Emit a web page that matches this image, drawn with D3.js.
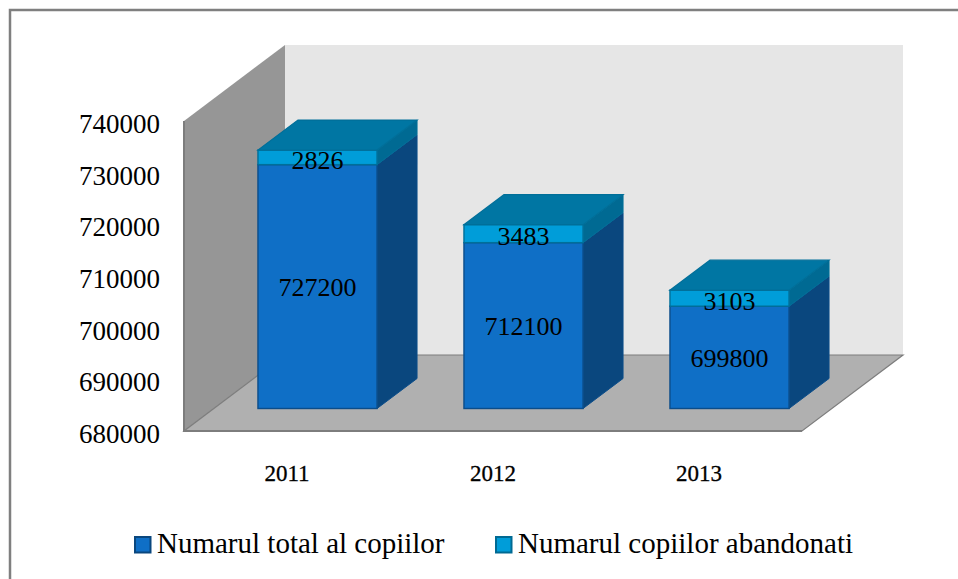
<!DOCTYPE html>
<html>
<head>
<meta charset="utf-8">
<script src="https://cdn.jsdelivr.net/npm/d3@7/dist/d3.min.js"></script>
<style>
  html, body { margin: 0; padding: 0; background: #fff; overflow: hidden; }
  svg { display: block; }
  text { font-family: "Liberation Serif", serif; fill: #000; font-feature-settings: "onum"; }
  .axis path, .axis line { display: none; }
</style>
</head>
<body>
<svg id="chart" width="958" height="579"></svg>
<script>
const years = ["2011", "2012", "2013"];
const totalChildren = [727200, 712100, 699800];
const abandonedChildren = [2826, 3483, 3103];
const yTicks = [680000, 690000, 700000, 710000, 720000, 730000, 740000];
const seriesNames = ["Numarul total al copiilor", "Numarul copiilor abandonati"];

const svg = d3.select("#chart");

const plot = { left: 184, right: 802, top: 121, bottom: 431, depthX: 101, depthY: -76 };
const bar = { shiftX: 30.5, lift: 22.5, depthX: 40, depthY: -30, ratio: 0.578 };

const colors = {
  frame: "#7f7f7f",
  backWall: "#e6e6e6",
  sideWall: "#969696",
  floor: "#b0b0b0",
  wallEdge: "#7d7d7d",
  front: ["#0f6fc6", "#009dd9"],
  side: ["#0a477e", "#006a93"],
  topFace: "#0076a3",
  edge: ["#0b4d8a", "#006f99"]
};

const x = d3.scaleBand().domain(years).range([plot.left, plot.right]);
const y = d3.scaleLinear().domain([680000, 740000]).range([plot.bottom, plot.top]);

const line = d3.line();

// outer frame, runs off the right and bottom of the picture
svg.append("rect")
  .attr("x", 10).attr("y", 10)
  .attr("width", 1200).attr("height", 1200)
  .attr("fill", "#fff")
  .attr("stroke", colors.frame)
  .attr("stroke-width", 2.5);

const yBase = y(680000), yMax = y(740000);
const dx = plot.depthX, dy = plot.depthY;

// back wall
svg.append("path")
  .attr("d", line([[plot.left + dx, yMax + dy], [plot.right + dx, yMax + dy],
                   [plot.right + dx, yBase + dy], [plot.left + dx, yBase + dy]]) + "Z")
  .attr("fill", colors.backWall);

// side wall
svg.append("path")
  .attr("d", line([[plot.left, yMax], [plot.left + dx, yMax + dy],
                   [plot.left + dx, yBase + dy], [plot.left, yBase]]) + "Z")
  .attr("fill", colors.sideWall);
svg.append("path")
  .attr("d", line([[plot.left, yBase], [plot.left, yMax]]))
  .attr("stroke", colors.wallEdge).attr("stroke-width", 2).attr("fill", "none");

// floor
svg.append("path")
  .attr("d", line([[plot.left, yBase], [plot.right, yBase],
                   [plot.right + dx, yBase + dy], [plot.left + dx, yBase + dy]]) + "Z")
  .attr("fill", colors.floor)
  .attr("stroke", colors.wallEdge)
  .attr("stroke-width", 1.2);
svg.append("path")
  .attr("d", line([[plot.left - 1, yBase], [plot.right, yBase]]))
  .attr("stroke", colors.wallEdge).attr("stroke-width", 2).attr("fill", "none");

// stacked boxes
const rows = years.map((year, i) => ({ year, total: totalChildren[i], abandoned: abandonedChildren[i] }));
const stacked = d3.stack().keys(["total", "abandoned"])(rows);
const barWidth = x.bandwidth() * bar.ratio;
const barLeft = d => x(d.data.year) + x.bandwidth() / 2 + bar.shiftX - barWidth / 2;
const low = d => (d[0] === 0 ? yBase : y(d[0])) - bar.lift;
const high = d => y(d[1]) - bar.lift;

stacked.forEach((series, s) => {
  const g = svg.append("g").attr("class", "series-" + s);

  g.selectAll("path.side").data(series).join("path")
    .attr("class", "side")
    .attr("d", d => {
      const xr = barLeft(d) + barWidth;
      return line([[xr, low(d)], [xr + bar.depthX, low(d) + bar.depthY],
                   [xr + bar.depthX, high(d) + bar.depthY], [xr, high(d)]]) + "Z";
    })
    .attr("fill", colors.side[s])
    .attr("stroke", colors.edge[s]).attr("stroke-width", 1);

  g.selectAll("rect.front").data(series).join("rect")
    .attr("class", "front")
    .attr("x", barLeft)
    .attr("y", high)
    .attr("width", barWidth)
    .attr("height", d => low(d) - high(d))
    .attr("fill", colors.front[s])
    .attr("stroke", colors.edge[s]).attr("stroke-width", 1.4);

  if (s === 1) {
    g.selectAll("path.top").data(series).join("path")
      .attr("class", "top")
      .attr("d", d => {
        const xl = barLeft(d), xr = xl + barWidth, yt = high(d);
        return line([[xl, yt], [xr, yt], [xr + bar.depthX, yt + bar.depthY],
                     [xl + bar.depthX, yt + bar.depthY]]) + "Z";
      })
      .attr("fill", colors.topFace)
      .attr("stroke", colors.edge[s]).attr("stroke-width", 1.2);
  }
});

// value labels go over every box
stacked.forEach((series, s) => {
  svg.append("g").selectAll("text").data(series).join("text")
    .attr("x", d => barLeft(d) + barWidth / 2)
    .attr("y", d => (low(d) + high(d)) / 2 + (s === 0 ? 1 : 3))
    .attr("dy", "0.34em")
    .attr("text-anchor", "middle")
    .attr("font-size", 26)
    .text(d => d[1] - d[0]);
});

// axes
const yAxis = svg.append("g")
  .attr("class", "axis")
  .attr("transform", `translate(${plot.left},0)`)
  .call(d3.axisLeft(y).tickValues(yTicks).tickFormat(d3.format("d")).tickSize(0).tickPadding(24));
yAxis.selectAll("text").attr("font-size", 27).attr("dy", "0.42em");

const xAxis = svg.append("g")
  .attr("class", "axis")
  .attr("transform", `translate(0,${plot.bottom})`)
  .call(d3.axisBottom(x).tickSize(0).tickPadding(34));
xAxis.selectAll("text")
  .attr("font-size", 23)
  .attr("stroke", "#000")
  .attr("stroke-width", 0.3);

// legend
const legendX = [135, 496];
const legend = svg.append("g").selectAll("g").data(seriesNames).join("g")
  .attr("transform", (d, i) => `translate(${legendX[i]},537)`);
legend.append("rect")
  .attr("width", 15.5).attr("height", 15.5)
  .attr("fill", (d, i) => colors.front[i])
  .attr("stroke", (d, i) => colors.side[i])
  .attr("stroke-width", 2);
legend.append("text")
  .attr("x", 22).attr("y", 16)
  .attr("font-size", 29)
  .text(d => d);
</script>
</body>
</html>
